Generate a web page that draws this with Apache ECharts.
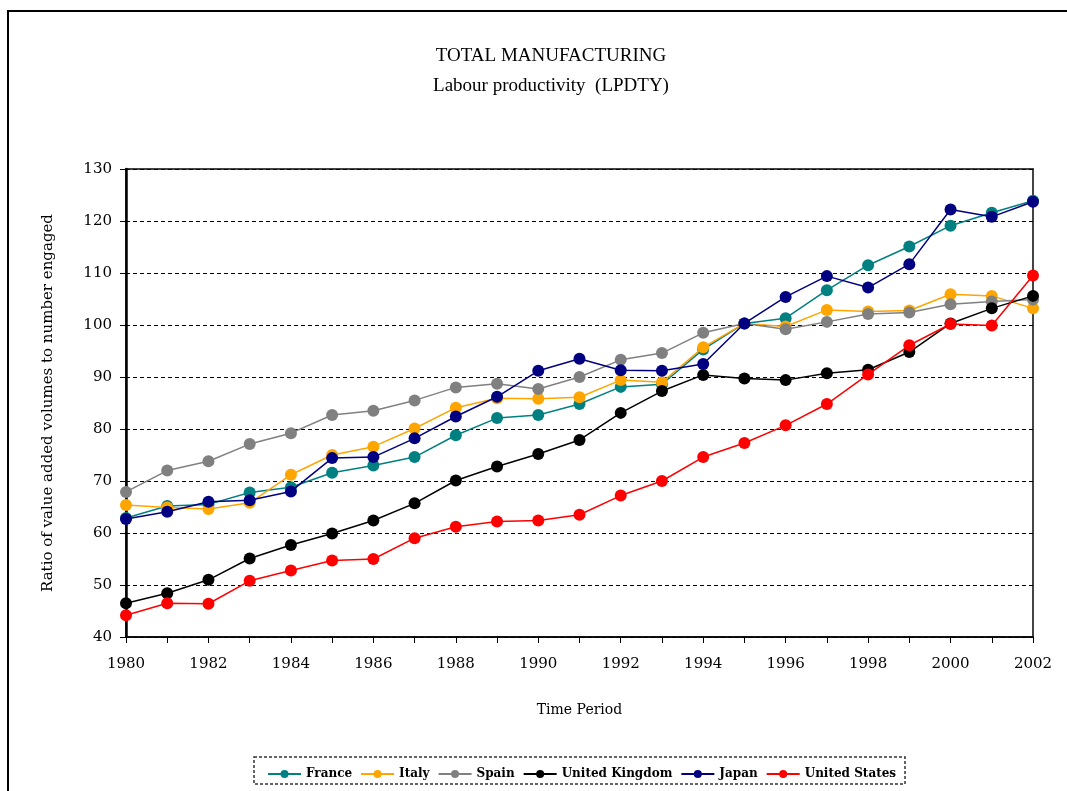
<!DOCTYPE html>
<html>
<head>
<meta charset="utf-8">
<script src="https://cdn.jsdelivr.net/npm/echarts@6/dist/echarts.min.js"></script>
<style>
html,body{margin:0;padding:0;background:#fff;}
#c{width:1067px;height:791px;}
</style>
</head>
<body>
<div id="c"></div>
<script>
const years = ['1980','1981','1982','1983','1984','1985','1986','1987','1988','1989','1990','1991','1992','1993','1994','1995','1996','1997','1998','1999','2000','2001','2002'];
const france = [62.9, 65.2, 65.5, 67.8, 68.8, 71.6, 73.0, 74.6, 78.8, 82.1, 82.7, 84.8, 88.1, 88.6, 95.3, 100.3, 101.3, 106.7, 111.5, 115.1, 119.1, 121.6, 123.9];
const italy = [65.4, 64.9, 64.6, 65.8, 71.2, 75.0, 76.6, 80.1, 84.1, 85.9, 85.8, 86.1, 89.4, 89.0, 95.7, 100.3, 99.7, 102.9, 102.6, 102.8, 105.9, 105.6, 103.2];
const spain = [67.9, 72.0, 73.8, 77.1, 79.2, 82.7, 83.5, 85.5, 88.0, 88.7, 87.7, 90.0, 93.3, 94.6, 98.5, 100.3, 99.2, 100.6, 102.1, 102.4, 104.0, 104.5, 104.9];
const uk = [46.5, 48.4, 51.0, 55.1, 57.7, 59.9, 62.4, 65.7, 70.1, 72.8, 75.2, 77.9, 83.1, 87.3, 90.4, 89.7, 89.4, 90.7, 91.4, 94.8, 100.3, 103.2, 105.6];
const japan = [62.7, 64.1, 66.0, 66.3, 68.0, 74.4, 74.6, 78.2, 82.4, 86.2, 91.2, 93.5, 91.3, 91.2, 92.5, 100.3, 105.4, 109.4, 107.2, 111.7, 122.2, 120.8, 123.7];
const us = [44.2, 46.5, 46.4, 50.8, 52.8, 54.7, 55.0, 59.0, 61.2, 62.2, 62.4, 63.5, 67.2, 70.0, 74.6, 77.3, 80.7, 84.8, 90.5, 96.1, 100.2, 99.9, 109.5];
const seriesNames = ['France','Italy','Spain','United Kingdom','Japan','United States'];
const seriesData = [france, italy, spain, uk, japan, us];
const seriesColors = ['#008080','#FFA500','#808080','#000000','#000080','#FF0000'];

const chart = echarts.init(document.getElementById('c'), null, {renderer:'canvas'});
const serif = 'DejaVu Serif';
chart.setOption({
  animation:false,
  backgroundColor:'#fff',
  title:{
    text:'TOTAL MANUFACTURING\nLabour productivity  (LPDTY)',
    left:546, top:36, textAlign:'center',
    textStyle:{fontFamily:'Liberation Serif', fontSize:19, fontWeight:'normal', color:'#000', lineHeight:30}
  },
  graphic:[
    {type:'rect', shape:{x:8, y:11, width:1100, height:820}, style:{fill:null, stroke:'#000', lineWidth:2}, silent:true},
    {type:'rect', shape:{x:254, y:757, width:651, height:27}, style:{fill:null, stroke:'#333', lineWidth:1.5, lineDash:[3,2]}, silent:true}
  ],
  legend:{
    left:262, top:763, itemWidth:33, itemHeight:10, itemGap:8,
    data:seriesNames,
    textStyle:{fontFamily:serif, fontSize:12, fontWeight:'bold', color:'#000'}
  },
  grid:{left:126, top:169, width:907, height:468, show:true, borderColor:'#444', borderWidth:2, containLabel:false},
  xAxis:{
    type:'category', data:years, boundaryGap:false,
    name:'Time Period', nameLocation:'middle', nameGap:66,
    nameTextStyle:{fontFamily:serif, fontSize:14, color:'#000'},
    axisLine:{lineStyle:{color:'#000', width:1.5}},
    axisTick:{interval:0, length:6, lineStyle:{color:'#000'}},
    axisLabel:{interval:1, fontFamily:serif, fontSize:15, color:'#000', margin:20},
    splitLine:{show:false}
  },
  yAxis:{
    type:'value', min:40, max:130, interval:10,
    name:'Ratio of value added volumes to number engaged', nameLocation:'middle', nameGap:70,
    nameTextStyle:{fontFamily:serif, fontSize:15, color:'#000'},
    axisLine:{show:true, lineStyle:{color:'#000', width:2.5}},
    axisTick:{show:true, length:6, lineStyle:{color:'#000'}},
    axisLabel:{fontFamily:serif, fontSize:15, color:'#000', margin:14},
    splitLine:{show:true, lineStyle:{color:'#000', type:[4,3], width:1}}
  },
  series: seriesNames.map((n,i)=>({
    name:n, type:'line', data:seriesData[i],
    symbol:'circle', symbolSize:12,
    lineStyle:{color:seriesColors[i], width:1.5},
    itemStyle:{color:seriesColors[i]},
    z:2+i
  }))
});
</script>
</body>
</html>
